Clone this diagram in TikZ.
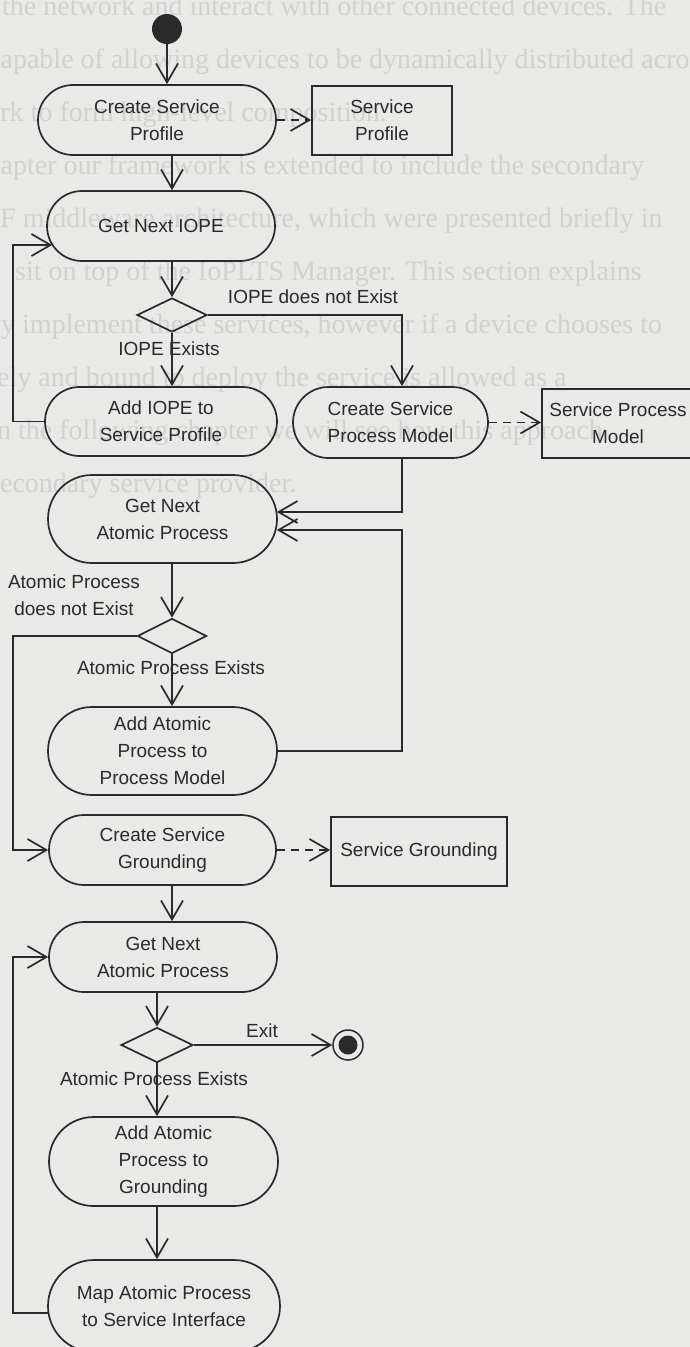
\documentclass[tikz,border=0pt]{standalone}
\usepackage{fontspec}
\newfontfamily\diagfont{Liberation Sans}
\newfontfamily\ghostfont{Liberation Serif}
\usetikzlibrary{shapes.misc,shapes.geometric,arrows.meta,calc}
\definecolor{paper}{RGB}{233,233,231}
\definecolor{ghost}{RGB}{209,209,207}
\definecolor{ink}{RGB}{42,42,42}

\begin{document}
\begin{tikzpicture}[x=1pt,y=-1pt,
  every node/.style={font=\diagfont\fontsize{19}{27}\selectfont, text=ink},
  act/.style={draw=ink, line width=1.7pt, rounded rectangle, inner sep=0pt, align=center},
  obj/.style={draw=ink, line width=1.7pt, rectangle, inner sep=0pt, align=center},
  dec/.style={draw=ink, line width=1.7pt, diamond, aspect=2, inner sep=0pt},
  lbl/.style={inner sep=0pt, align=center},
  ghostline/.style={anchor=base west, inner sep=0pt, text=ghost,
    font=\ghostfont\fontsize{28}{28}\selectfont},
  flow/.style={draw=ink, line width=1.7pt, -{Straight Barb[length=19pt,width=22pt]}},
  dep/.style={flow, dash pattern=on 8pt off 6pt}
]
% paper and page frame
\fill[paper] (0,0) rectangle (690,1347);
\useasboundingbox (0,0) rectangle (690,1347);
\clip (0,0) rectangle (690,1347);

% text from the facing page showing through
\node[ghostline] (g1)  at (2,15)    {the network and interact with other connected devices. The};
\node[ghostline] (g2)  at (-12,68)  {capable of allowing devices to be dynamically distributed across};
\node[ghostline] (g3)  at (-34,121) {work to form high-level composition.};
\node[ghostline] (g4)  at (-26,174) {chapter our framework is extended to include the secondary};
\node[ghostline] (g5)  at (0,227)   {F middleware architecture, which were presented briefly in};
\node[ghostline] (g6)  at (15,280)  {sit on top of the IoPLTS Manager. This section explains};
\node[ghostline] (g7)  at (1,333)   {y implement these services, however if a device chooses to};
\node[ghostline] (g8)  at (-3,386)  {ely and bound to deploy the service is allowed as a};
\node[ghostline] (g9)  at (-3,439)  {n the following chapter we will see how this approach};
\node[ghostline] (g10) at (-11,492) {secondary service provider.};

% activities
\node[circle, fill=ink, minimum size=30pt, inner sep=0pt] (start) at (167,29) {};
\node[act, minimum width=238pt, minimum height=70pt] (CSP) at (157,120) {Create Service\\Profile};
\node[obj, minimum width=140pt, minimum height=69pt] (SP) at (382,120.5) {Service\\Profile};
\node[act, minimum width=228pt, minimum height=70pt] (GNI) at (161,226) {Get Next IOPE};
\node[dec, minimum width=70pt, minimum height=34pt] (D1) at (172,315) {};
\node[act, minimum width=232pt, minimum height=69pt] (AIOPE) at (161,421.5) {Add IOPE to\\Service Profile};
\node[act, minimum width=195pt, minimum height=71pt] (CSPM) at (390.5,422.5) {Create Service\\Process Model};
\node[obj, minimum width=152pt, minimum height=69pt] (SPM) at (618,423.5) {Service Process\\Model};
\node[act, minimum width=229pt, minimum height=88pt] (GNAP1) at (162.5,519) {Get Next\\Atomic Process};
\node[dec, minimum width=69pt, minimum height=35pt] (D2) at (172,636) {};
\node[act, minimum width=229pt, minimum height=88pt] (AAPPM) at (162.5,751) {Add Atomic\\Process to\\Process Model};
\node[act, minimum width=227pt, minimum height=70pt] (CSG) at (162.5,850) {Create Service\\Grounding};
\node[obj, minimum width=176pt, minimum height=69pt] (SG) at (419,851.5) {Service Grounding};
\node[act, minimum width=228pt, minimum height=70pt] (GNAP2) at (163,957) {Get Next\\Atomic Process};
\node[dec, minimum width=72pt, minimum height=35pt] (D3) at (157,1045) {};
\node[circle, draw=ink, line width=1.5pt, minimum size=30pt, inner sep=0pt] (final) at (348,1045) {};
\node[circle, fill=ink, minimum size=19pt, inner sep=0pt] (finalcore) at (final.center) {};
\node[act, minimum width=229pt, minimum height=89pt] (AAPG) at (163.5,1161.5) {Add Atomic\\Process to\\Grounding};
\node[act, minimum width=232pt, minimum height=92pt] (MAP) at (164,1306) {Map Atomic Process\\to Service Interface};

% guard labels
\node[lbl] (lNoIOPE) at (313,297) {IOPE does not Exist};
\node[lbl] (lIOPE) at (169,349) {IOPE Exists};
\node[lbl] (lNoAP) at (74,595) {Atomic Process\\does not Exist};
\node[lbl] (lAP1) at (171,668) {Atomic Process Exists};
\node[lbl] (lExit) at (262,1031) {Exit};
\node[lbl] (lAP2) at (154,1079) {Atomic Process Exists};

% routing columns and entry points
\coordinate (lx) at (13,0);
\coordinate (rx) at (402,0);
\coordinate (gniIn) at ($(GNI.west)+(6,19)$);
\coordinate (apIn1) at ($(GNAP1.east)+(-1,-7)$);
\coordinate (apIn2) at ($(GNAP1.east)+(-1,11)$);
\coordinate (mapOut) at ($(MAP.west)+(1,7)$);

% control flow
\draw[flow] (start) -- (start |- CSP.north);
\draw[flow] (CSP.south -| D1) -- (GNI.north -| D1);
\draw[flow] (GNI.south -| D1) -- (D1.north);
\draw[flow] (D1.south) -- (AIOPE.north -| D1);
\draw[flow] (D1.east) -| (CSPM.north -| rx);
\draw[flow] (AIOPE.west) -| (lx |- gniIn) -- (gniIn);
\draw[flow] (CSPM.south -| rx) |- (apIn1);
\draw[flow] (AAPPM.east) -| (rx |- apIn2) -- (apIn2);
\draw[flow] (GNAP1.south -| D2) -- (D2.north);
\draw[flow] (D2.south) -- (AAPPM.north -| D2);
\draw[flow] (D2.west) -| (lx |- CSG.west) -- (CSG.west);
\draw[flow] (CSG.south -| D2) -- (GNAP2.north -| D2);
\draw[flow] (GNAP2.south -| D3) -- (D3.north);
\draw[flow] (D3.east) -- (final);
\draw[flow] (D3.south) -- (AAPG.north -| D3);
\draw[flow] (AAPG.south -| D3) -- (MAP.north -| D3);
\draw[flow] (mapOut) -| (lx |- GNAP2.west) -- (GNAP2.west);

% object flows
\draw[dep] (CSP.east) -- (SP.west |- CSP.east);
\draw[dep] (CSPM.east) -- (SPM.west |- CSPM.east);
\draw[dep] (CSG.east) -- (SG.west |- CSG.east);
\end{tikzpicture}
\end{document}
